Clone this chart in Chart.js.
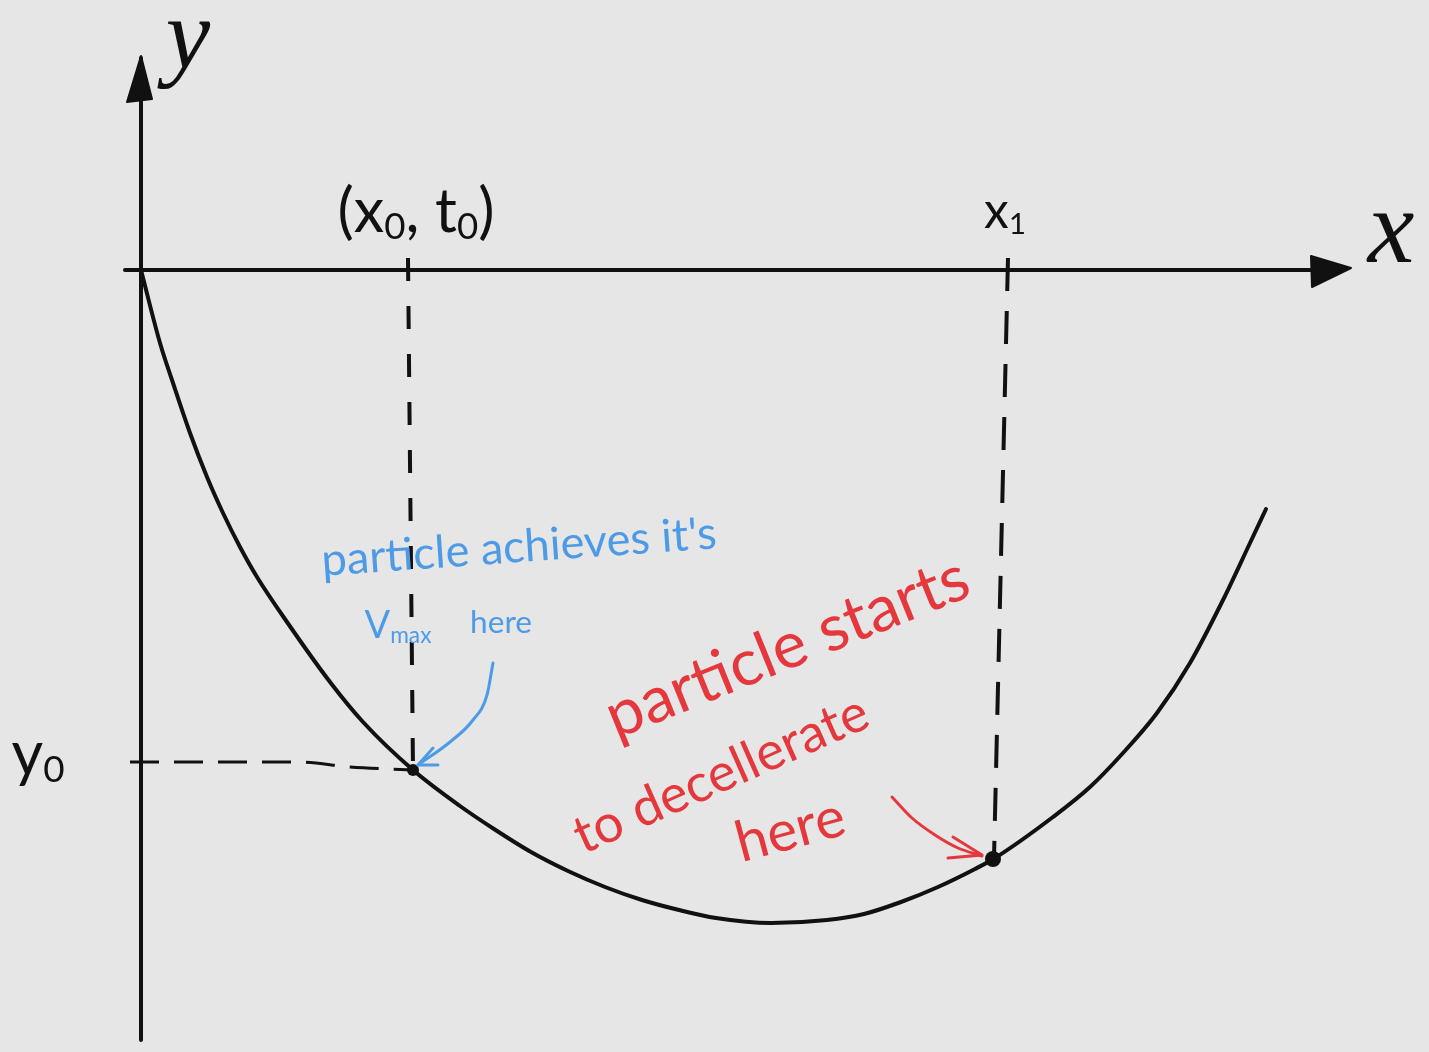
<!DOCTYPE html>
<html>
<head>
<meta charset="utf-8">
<title>Particle trajectory sketch</title>
<script src="https://cdn.jsdelivr.net/npm/chart.js@4/dist/chart.umd.min.js"></script>
<style>
  html, body { margin: 0; padding: 0; background: #e6e6e6; overflow: hidden; }
  canvas { display: block; }
</style>
</head>
<body>
<canvas id="c" width="1429" height="1052"></canvas>
<script>
// ---------- data (sketch units: origin at axes crossing) ----------
const curveX = [0, 19, 32, 49, 66, 82, 99, 116, 146, 189, 222, 272, 319, 353, 390, 427, 464, 501, 538, 575, 630, 686, 723, 760, 797, 834, 854, 912, 949, 982, 1016, 1049, 1082, 1109, 1125];
const curveY = [0, -73, -113, -163, -207, -243, -277, -307, -352, -412, -452, -500, -536, -559, -582, -601, -617, -630, -640, -648, -653, -650, -644, -632, -617, -599, -588, -547, -517, -483, -443, -393, -330, -273, -239];

const yAxisX = [0, 0];
const yAxisY = [212, -770];
const xAxisX = [-16, 1199];
const xAxisY = [0, 0];
const yArrowX = [0, -14, 11, 0];
const yArrowY = [214, 168, 171, 214];
const xArrowX = [1210, 1170, 1171, 1210];
const xArrowY = [2, 14, -17, 2];

const x0DashX = [267, 272];
const x0DashY = [12, -500];
const x1DashX = [867, 853];
const x1DashY = [12, -588];
const y0DashX = [-11, 159, 209, 272];
const y0DashY = [-492, -492, -497, -500];

const markX = [272, 852];
const markY = [-500, -589];

const blueArrowX = [352, 346, 332, 309, 277];
const blueArrowY = [-393, -425, -450, -472, -495];
const blueHeadX = [292, 277, 297];
const blueHeadY = [-478, -495, -495];

const redArrowX = [751, 771, 794, 817, 841];
const redArrowY = [-527, -548, -565, -578, -586];
const redHeadX = [812, 841, 807];
const redHeadY = [-567, -585, -588];

const axisTitles = ['y', 'x'];
const tickLabels = ['(x₀, t₀)', 'x₁', 'y₀'];
const blueNote = ["particle achieves it's", 'Vₘₐₓ', 'here'];
const redNote = ['particle starts', 'to decellerate', 'here'];

// ---------- helpers ----------
const pts = (xs, ys) => xs.map((x, i) => ({ x: x, y: ys[i] }));
const INK = '#111111';
const BLUE = '#4d9be6';
const RED = '#e5383d';

function line(xs, ys, color, width, extra) {
  return Object.assign({
    data: pts(xs, ys), showLine: true, borderColor: color, borderWidth: width,
    pointRadius: 0, fill: false, tension: 0, borderCapStyle: 'round', borderJoinStyle: 'round'
  }, extra || {});
}

const SUB = { '₀': '0', '₁': '1', 'ₘ': 'm', 'ₐ': 'a', 'ₓ': 'x' };

function layoutText(ctx, text, size, fam, style) {
  const segs = [];
  let w = 0, buf = '', bufSub = null;
  const flush = () => {
    if (!buf) return;
    const fs = bufSub ? size * 0.6 : size;
    const font = style + ' ' + fs + 'px ' + fam;
    ctx.font = font;
    const mw = ctx.measureText(buf).width;
    segs.push({ t: buf, font: font, dx: w, dy: bufSub ? size * 0.12 : 0 });
    w += mw;
    buf = '';
  };
  for (const ch of text) {
    const s = SUB[ch] !== undefined;
    if (buf && s !== bufSub) flush();
    bufSub = s;
    buf += s ? SUB[ch] : ch;
  }
  flush();
  return { segs: segs, w: w };
}

const sketchPlugin = {
  id: 'sketch',
  beforeDraw(chart) {
    const ctx = chart.ctx;
    ctx.save();
    ctx.fillStyle = '#e6e6e6';
    ctx.fillRect(0, 0, chart.width, chart.height);
    ctx.restore();
  },
  afterDatasetsDraw(chart, args, opts) {
    const ctx = chart.ctx;
    const sx = chart.scales.x, sy = chart.scales.y;
    for (const it of opts.items) {
      let size = it.size || 100;
      let lay = layoutText(ctx, it.text, size, it.fam, it.style || 'normal');
      if (it.w) {
        size = size * it.w / lay.w;
        lay = layoutText(ctx, it.text, size, it.fam, it.style || 'normal');
      }
      ctx.save();
      ctx.translate(sx.getPixelForValue(it.x), sy.getPixelForValue(it.y));
      ctx.rotate((it.rot || 0) * Math.PI / 180);
      ctx.fillStyle = it.color;
      ctx.textBaseline = 'alphabetic';
      ctx.textAlign = 'left';
      for (const s of lay.segs) {
        ctx.font = s.font;
        ctx.fillText(s.t, -lay.w / 2 + s.dx, s.dy);
      }
      ctx.restore();
    }
  }
};

const SANS = 'Lato, "Open Sans", sans-serif';
const SERIF = '"Liberation Serif", "DejaVu Serif", serif';

new Chart(document.getElementById('c'), {
  type: 'scatter',
  data: {
    datasets: [
      line(yAxisX, yAxisY, INK, 4),
      line(xAxisX, xAxisY, INK, 4),
      line(yArrowX, yArrowY, INK, 2, { fill: 'shape', backgroundColor: INK }),
      line(xArrowX, xArrowY, INK, 2, { fill: 'shape', backgroundColor: INK }),
      line(curveX, curveY, INK, 4, { cubicInterpolationMode: 'monotone' }),
      line(x0DashX, x0DashY, INK, 4, { borderDash: [23, 25], borderCapStyle: 'butt' }),
      line(x1DashX, x1DashY, INK, 4, { borderDash: [33, 20], borderCapStyle: 'butt' }),
      line(y0DashX, y0DashY, INK, 3, { borderDash: [29, 15], borderCapStyle: 'butt', cubicInterpolationMode: 'monotone' }),
      line(blueArrowX, blueArrowY, BLUE, 3, { cubicInterpolationMode: 'monotone' }),
      line(blueHeadX, blueHeadY, BLUE, 3),
      line(redArrowX, redArrowY, RED, 3, { cubicInterpolationMode: 'monotone' }),
      line(redHeadX, redHeadY, RED, 3),
      { data: pts(markX, markY), showLine: false, pointRadius: [6, 8], pointBackgroundColor: INK, pointBorderColor: INK, pointBorderWidth: 0 }
    ]
  },
  options: {
    responsive: false,
    devicePixelRatio: 1,
    animation: false,
    events: [],
    layout: { padding: 0, autoPadding: false },
    scales: {
      x: { type: 'linear', min: -141, max: 1288, display: false },
      y: { type: 'linear', min: -782, max: 270, display: false }
    },
    plugins: {
      legend: { display: false },
      tooltip: { enabled: false },
      sketch: {
        items: [
          { text: axisTitles[0], x: 47, y: 202, size: 100, fam: SERIF, style: 'italic', color: INK },
          { text: axisTitles[1], x: 1250, y: 8, size: 105, fam: SERIF, style: 'italic', color: INK },
          { text: tickLabels[0], x: 275, y: 38, w: 157, fam: SANS, color: INK },
          { text: tickLabels[1], x: 864, y: 42, w: 42, fam: SANS, color: INK },
          { text: tickLabels[2], x: -103, y: -505, w: 53, fam: SANS, color: INK },
          { text: blueNote[0], x: 379, y: -292, w: 396, rot: -4, fam: SANS, color: BLUE },
          { text: blueNote[1], x: 257, y: -368, w: 67, fam: SANS, color: BLUE },
          { text: blueNote[2], x: 360, y: -363, w: 62, fam: SANS, color: BLUE },
          { text: redNote[0], x: 654, y: -397, w: 386, rot: -22, fam: SANS, color: RED },
          { text: redNote[1], x: 587, y: -520, w: 317, rot: -24, fam: SANS, color: RED },
          { text: redNote[2], x: 654, y: -578, w: 111, rot: -15, fam: SANS, color: RED }
        ]
      }
    }
  },
  plugins: [sketchPlugin]
});
</script>
</body>
</html>
